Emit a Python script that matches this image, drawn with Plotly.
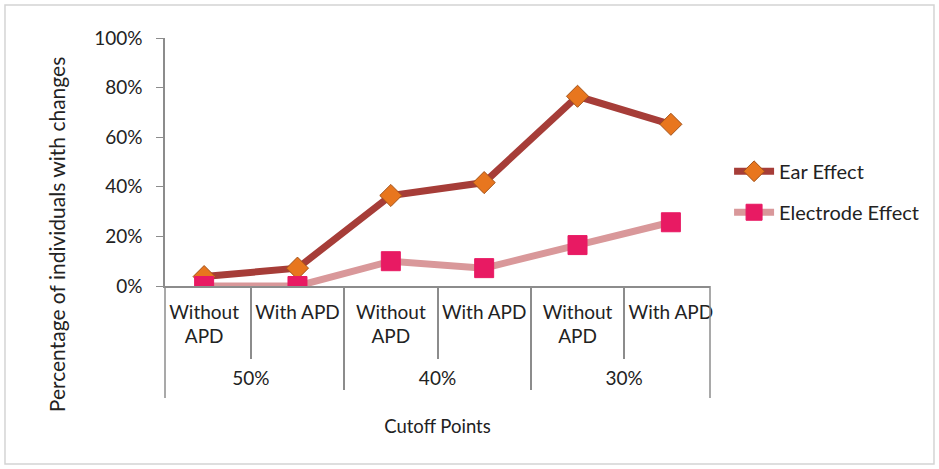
import plotly.graph_objects as go

# Cutoff groups and APD sub-categories along the x axis
cutoffs = ["50%", "50%", "40%", "40%", "30%", "30%"]
apd_labels = ["Without<br>APD<br> ", "With APD<br> <br> ", "Without<br>APD<br> ",
              "With APD<br> <br> ", "Without<br>APD<br> ", "With APD<br> <br> "]

# Percentage of individuals with changes
ear_effect = [3.8, 7.2, 36.5, 41.7, 76.5, 65.2]
electrode_effect = [0.0, 0.0, 10.0, 7.2, 16.5, 25.7]

y_ticks = [0, 20, 40, 60, 80, 100]
y_tick_text = ["0%", "20%", "40%", "60%", "80%", "100%"]

FONT = "Lato, 'Open Sans', sans-serif"
AXIS_GREY = "#8C8C8C"
x = [cutoffs, apd_labels]

fig = go.Figure()
fig.add_trace(go.Scatter(
    x=x, y=ear_effect, name="Ear Effect", mode="lines+markers",
    legendgroup="ear",
    line=dict(color="#A63D38", width=7),
    marker=dict(symbol="diamond", size=17, color="#E8761E",
                line=dict(color="#A2521A", width=1)),
))
fig.add_trace(go.Scatter(
    x=x, y=electrode_effect, name="Electrode Effect", mode="lines+markers",
    legendgroup="electrode",
    line=dict(color="#D9989A", width=7),
    marker=dict(symbol="square", size=19, color="#E81A63",
                line=dict(color="#E81A63", width=1)),
))

# outer chart frame
fig.add_shape(type="rect", xref="paper", yref="paper",
              x0=-0.2936, x1=1.411, y0=-0.718, y1=1.133,
              line=dict(color="#D4D4D4", width=1.5), fillcolor="rgba(0,0,0,0)")
# full-height dividers at both ends of the category axis
for xe in (0, 1):
    fig.add_shape(type="line", xref="paper", yref="paper",
                  x0=xe, x1=xe, y0=0, y1=-0.452,
                  line=dict(color=AXIS_GREY, width=1.5))

# y axis title, centred over the value and category label area
fig.add_annotation(
    text="Percentage of individuals with changes",
    xref="paper", yref="paper", x=-0.200, y=0.205,
    xanchor="center", yanchor="middle", textangle=-90,
    showarrow=False, font=dict(size=21),
)

fig.update_layout(
    width=939, height=469,
    margin=dict(l=165, r=229, t=38, b=183),
    paper_bgcolor="white", plot_bgcolor="white",
    font=dict(family=FONT, size=19, color="#222222"),
    showlegend=True,
    legend=dict(x=1.035, y=0.38, xanchor="left", yanchor="middle",
                font=dict(size=20), tracegroupgap=12, itemwidth=40),
    xaxis=dict(
        type="multicategory",
        showline=True, linecolor=AXIS_GREY, linewidth=1.5,
        tickson="boundaries", ticks="outside", ticklen=71,
        tickcolor=AXIS_GREY, tickwidth=1.5,
        showdividers=True, dividercolor=AXIS_GREY, dividerwidth=1.5,
        showgrid=False, tickangle=0,
        tickfont=dict(size=19),
        ticklabelstandoff=8,
        title=dict(text="Cutoff Points", font=dict(size=18.5), standoff=32),
    ),
    yaxis=dict(
        range=[0, 100], tickvals=y_ticks, ticktext=y_tick_text,
        showline=True, linecolor=AXIS_GREY, linewidth=1.5,
        ticks="outside", ticklen=7, tickcolor=AXIS_GREY,
        showgrid=False, zeroline=False,
        tickfont=dict(size=19),
        ticklabelstandoff=10,
    ),
)

fig.write_html("out.html")
